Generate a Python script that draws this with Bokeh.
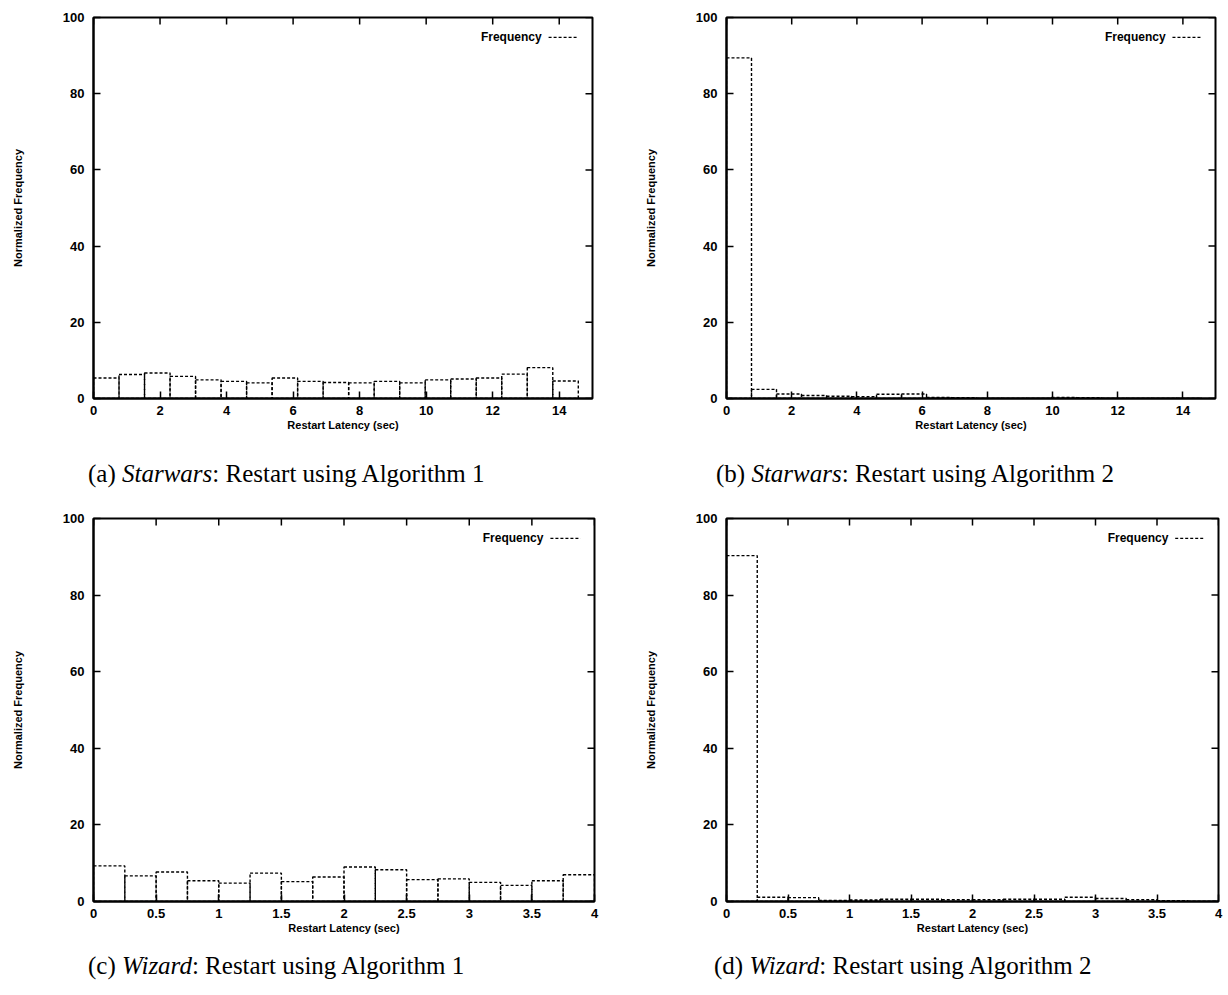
from bokeh.plotting import figure
from bokeh.models import Range1d, FixedTicker, Div
from bokeh.layouts import column, row
from bokeh.embed import file_html
from bokeh.resources import INLINE
from bokeh.core.properties import value

# ---------------- data ----------------
starwars_bin_width = 0.767
starwars_alg1 = [5.4, 6.3, 6.7, 5.8, 4.9, 4.5, 4.1, 5.4, 4.5, 4.2, 4.1, 4.5, 4.1, 4.9, 5.1, 5.4, 6.4, 8.1, 4.6]
starwars_alg2 = [89.4, 2.4, 1.2, 0.8, 0.6, 0.5, 1.1, 1.2, 0.3, 0.2, 0.1, 0.1, 0.1, 0.3, 0.2, 0.1, 0.1, 0.1, 0.1]
wizard_bin_width = 0.25
wizard_alg1 = [9.3, 6.7, 7.7, 5.4, 4.8, 7.4, 5.2, 6.4, 9.0, 8.3, 5.7, 5.9, 5.0, 4.2, 5.4, 7.0]
wizard_alg2 = [90.3, 1.1, 1.0, 0.3, 0.4, 0.6, 0.6, 0.5, 0.5, 0.6, 0.6, 1.1, 0.8, 0.5, 0.2, 0.1]

starwars_ticks = [0, 2, 4, 6, 8, 10, 12, 14]
wizard_ticks = [0, 0.5, 1, 1.5, 2, 2.5, 3, 3.5, 4]
freq_ticks = [0, 20, 40, 60, 80, 100]

captions = [
    "(a) <i>Starwars</i>: Restart using Algorithm 1",
    "(b) <i>Starwars</i>: Restart using Algorithm 2",
    "(c) <i>Wizard</i>: Restart using Algorithm 1",
    "(d) <i>Wizard</i>: Restart using Algorithm 2",
]

SANS = "Liberation Sans"
TICK_PX = 7


def panel(vals, bw, xmax, xticks, w, h, bl, br, bt, bb):
    p = figure(width=w, height=h, x_range=Range1d(0, xmax), y_range=Range1d(0, 100),
               output_backend="svg", toolbar_location=None,
               min_border_left=bl, min_border_right=br, min_border_top=bt, min_border_bottom=bb)
    p.grid.visible = False
    p.outline_line_color = "black"
    p.outline_line_width = 2
    p.background_fill_color = "white"
    p.border_fill_color = "white"

    frame_w = w - bl - br
    frame_h = h - bt - bb

    lefts = [i * bw for i in range(len(vals))]
    rights = [(i + 1) * bw for i in range(len(vals))]
    p.quad(left=lefts, right=rights, bottom=0, top=vals, fill_color=None,
           line_color="black", line_width=1.4, line_dash="3 2")

    # legend (gnuplot style: label then sample)
    p.text(x=[xmax * 0.898], y=[94.8], text=["Frequency"], text_align="right",
           text_baseline="middle", text_font=value(SANS), text_font_style="bold",
           text_font_size="12px", text_color="black")
    p.line(x=[xmax * 0.912, xmax * 0.972], y=[94.8, 94.8], line_color="black",
           line_width=1.3, line_dash="3 2")

    # mirrored ticks on top and right borders (gnuplot default)
    dy = 100 * TICK_PX / frame_h
    dx = xmax * TICK_PX / frame_w
    p.segment(x0=xticks, x1=xticks, y0=[100] * len(xticks), y1=[100 - dy] * len(xticks),
              line_color="black", line_width=1.5)
    p.segment(x0=[xmax] * len(freq_ticks), x1=[xmax - dx] * len(freq_ticks),
              y0=freq_ticks, y1=freq_ticks, line_color="black", line_width=1.5)

    xa = p.xaxis[0]
    xa.ticker = FixedTicker(ticks=xticks)
    xa.major_label_overrides = {t: f"{t:g}" for t in xticks}
    xa.axis_label = "Restart Latency (sec)"
    ya = p.yaxis[0]
    ya.ticker = FixedTicker(ticks=freq_ticks)
    ya.axis_label = "Normalized Frequency"
    for ax in (xa, ya):
        ax.axis_line_width = 2
        ax.major_tick_in = TICK_PX
        ax.major_tick_out = 0
        ax.major_tick_line_width = 1.5
        ax.minor_tick_line_color = None
        ax.major_label_text_font = SANS
        ax.major_label_text_font_style = "bold"
        ax.major_label_text_font_size = "13px"
        ax.major_label_text_color = "black"
        ax.axis_label_text_font = SANS
        ax.axis_label_text_font_style = "bold"
        ax.axis_label_text_font_size = "11px"
        ax.axis_label_text_color = "black"
    xa.major_label_standoff = 7
    xa.axis_label_standoff = 1
    ya.major_label_standoff = 9
    ya.axis_label_standoff = 36
    return p


def caption(txt, w, h, pad_left, pad_top):
    return Div(text=f'<div style="padding-left:{pad_left}px; padding-top:{pad_top}px; margin:0; '
                    f'font-family:\'Liberation Serif\'; font-size:25px; line-height:28px; '
                    f'color:black; white-space:nowrap;">{txt}</div>',
               width=w, height=h, margin=0)


pa = panel(starwars_alg1, starwars_bin_width, 15, starwars_ticks, 614, 445, 93, 22, 17, 47)
pb = panel(starwars_alg2, starwars_bin_width, 15, starwars_ticks, 614, 445, 112, 13, 15, 47)
pc = panel(wizard_alg1, wizard_bin_width, 4, wizard_ticks, 614, 445, 93, 20, 21, 41)
pd = panel(wizard_alg2, wizard_bin_width, 4, wizard_ticks, 614, 445, 112, 10, 20, 41)

ca = caption(captions[0], 614, 52, 88, 15)
cb = caption(captions[1], 614, 52, 102, 15)
cc = caption(captions[2], 614, 53, 88, 10)
cd = caption(captions[3], 614, 53, 100, 10)

layout = column(row(pa, pb), row(ca, cb), row(pc, pd), row(cc, cd))
layout.styles = {"background-color": "white"}

open("out.html", "w").write(file_html(layout, INLINE))
